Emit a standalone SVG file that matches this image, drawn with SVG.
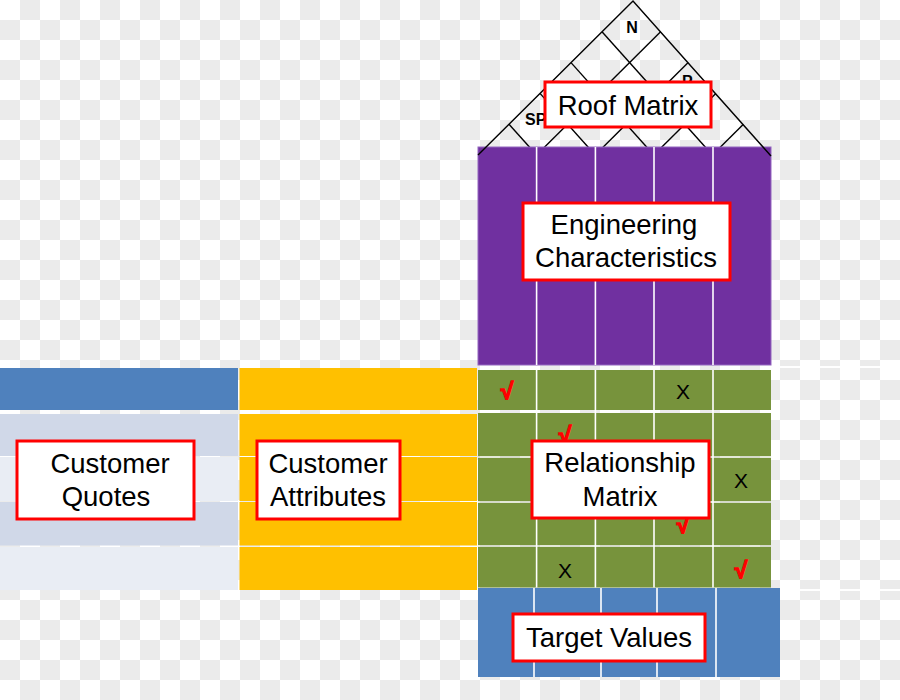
<svg xmlns="http://www.w3.org/2000/svg" width="900" height="700" viewBox="0 0 900 700">
<defs>
<pattern id="checker" patternUnits="userSpaceOnUse" width="40" height="40">
<rect width="40" height="40" fill="#ffffff"/>
<rect x="20" y="0" width="20" height="20" fill="#ebebeb"/>
<rect x="0" y="20" width="20" height="20" fill="#ebebeb"/>
</pattern>
</defs>
<style>
.lbl{fill:#ffffff;stroke:#ff0000;stroke-width:3}
.t{font-family:"Liberation Sans",Arial,sans-serif;font-size:27.5px;fill:#000;text-anchor:middle}
.sep{stroke:#ffffff;stroke-width:1.6}
.roof{stroke:#000;stroke-width:1.4;fill:none}
.chk{font-family:"Liberation Sans","DejaVu Sans",sans-serif;font-size:23px;font-weight:bold;fill:#ff0000;stroke:#ff0000;stroke-width:1.3;text-anchor:middle}
.x{font-family:"Liberation Sans",Arial,sans-serif;font-size:21px;fill:#000;text-anchor:middle}
.rl{font-family:"Liberation Sans",Arial,sans-serif;font-size:16px;font-weight:bold;fill:#000}
</style>
<rect width="900" height="700" fill="url(#checker)"/>
<g id="bg-lines">
<line x1="771" y1="367" x2="900" y2="367" stroke="#ffffff" stroke-width="2"/>
<line x1="780" y1="590" x2="900" y2="590" stroke="#ffffff" stroke-width="2"/>
</g>
<g id="roof">
<g class="roof">
<line x1="536.6" y1="155" x2="660.6" y2="31.8"/>
<line x1="595.2" y1="155" x2="688.2" y2="62.6"/>
<line x1="653.8" y1="155" x2="715.8" y2="93.4"/>
<line x1="712.4" y1="155" x2="743.4" y2="124.2"/>
<line x1="536.6" y1="155" x2="509" y2="124.2"/>
<line x1="595.2" y1="155" x2="540" y2="93.4"/>
<line x1="653.8" y1="155" x2="571" y2="62.6"/>
<line x1="712.4" y1="155" x2="602" y2="31.8"/>
</g>
<text class="rl" x="632" y="33" text-anchor="middle">N</text>
<text class="rl" x="525" y="125">SP</text>
<text class="rl" x="682" y="87">P</text>
</g>
<g id="engineering-characteristics">
<rect x="478" y="147" width="293" height="218" fill="#7030a0" stroke="#9466c0" stroke-width="1"/>
<line class="sep" x1="536.6" y1="147" x2="536.6" y2="365"/>
<line class="sep" x1="595.4" y1="147" x2="595.4" y2="365"/>
<line class="sep" x1="654" y1="147" x2="654" y2="365"/>
<line class="sep" x1="713" y1="147" x2="713" y2="365"/>
<rect class="lbl" x="523" y="203" width="207" height="77"/>
<text class="t" x="624" y="234">Engineering</text>
<text class="t" x="626" y="267">Characteristics</text>
</g>
<g id="roof-edges" class="roof">
<polyline points="478,155 633,1 771,156"/>
</g>
<g id="roof-matrix">
<rect class="lbl" x="545" y="82" width="166" height="45"/>
<text class="t" x="628" y="115">Roof Matrix</text>
</g>
<g id="customer-quotes">
<rect x="0" y="368" width="238" height="42" fill="#4f81bd"/>
<rect x="0" y="414" width="238" height="42" fill="#d0d8e8"/>
<rect x="0" y="457" width="238" height="44" fill="#e9edf4"/>
<rect x="0" y="502" width="238" height="43.5" fill="#d0d8e8"/>
<rect x="0" y="547" width="238" height="43" fill="#e9edf4"/>
<rect class="lbl" x="17" y="441" width="177" height="78"/>
<text class="t" x="110" y="473">Customer</text>
<text class="t" x="106" y="506">Quotes</text>
</g>
<g id="customer-attributes">
<rect x="239.5" y="368" width="237.5" height="42" fill="#ffc000"/>
<rect x="239.5" y="414" width="237.5" height="42" fill="#ffc000"/>
<rect x="239.5" y="457" width="237.5" height="44" fill="#ffc000"/>
<rect x="239.5" y="502" width="237.5" height="43.5" fill="#ffc000"/>
<rect x="239.5" y="547" width="237.5" height="43" fill="#ffc000"/>
<rect class="lbl" x="257" y="441" width="143" height="78"/>
<text class="t" x="328" y="473">Customer</text>
<text class="t" x="328" y="506">Attributes</text>
</g>
<g id="relationship-matrix">
<rect x="478" y="370" width="293" height="40" fill="#77933c"/>
<rect x="478" y="413" width="293" height="43.2" fill="#77933c"/>
<rect x="478" y="457.8" width="293" height="43.4" fill="#77933c"/>
<rect x="478" y="502.8" width="293" height="42.4" fill="#77933c"/>
<rect x="478" y="546.8" width="293" height="40.7" fill="#77933c"/>
<line class="sep" x1="536.6" y1="370" x2="536.6" y2="587.5"/>
<line class="sep" x1="595.4" y1="370" x2="595.4" y2="587.5"/>
<line class="sep" x1="654" y1="370" x2="654" y2="587.5"/>
<line class="sep" x1="713" y1="370" x2="713" y2="587.5"/>
<text class="chk" x="507" y="399">√</text>
<text class="x" x="683" y="399">X</text>
<text class="chk" x="565" y="443">√</text>
<text class="x" x="741" y="488">X</text>
<text class="chk" x="683" y="533">√</text>
<text class="x" x="565" y="578">X</text>
<text class="chk" x="741" y="578">√</text>
<rect class="lbl" x="532" y="441" width="177" height="77"/>
<text class="t" x="620" y="472">Relationship</text>
<text class="t" x="620" y="506">Matrix</text>
</g>
<g id="target-values">
<rect x="478" y="588" width="302" height="89" fill="#4f81bd"/>
<line class="sep" x1="534" y1="588" x2="534" y2="677"/>
<line class="sep" x1="601" y1="588" x2="601" y2="677"/>
<line class="sep" x1="657" y1="588" x2="657" y2="677"/>
<line class="sep" x1="716" y1="588" x2="716" y2="677"/>
<rect class="lbl" x="513" y="614" width="192" height="47"/>
<text class="t" x="609" y="647">Target Values</text>
</g>
</svg>
